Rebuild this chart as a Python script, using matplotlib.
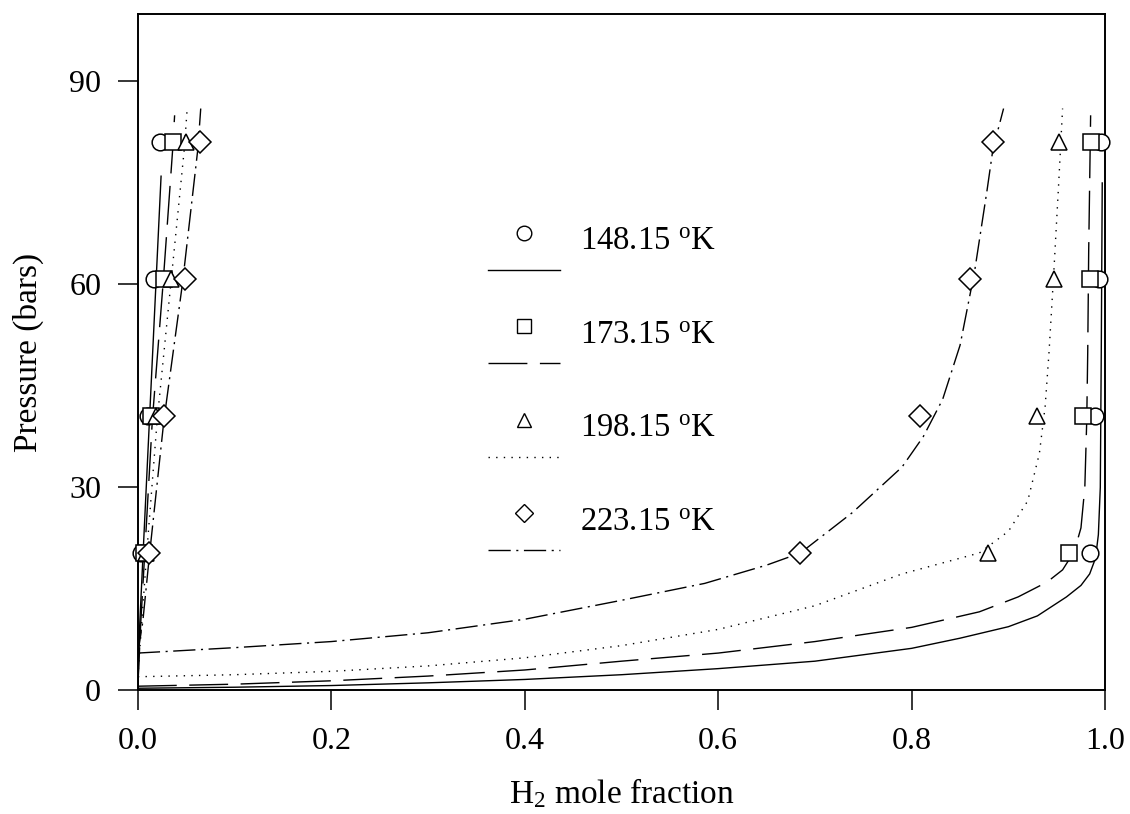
import matplotlib
matplotlib.use("Agg")
import matplotlib.pyplot as plt
from matplotlib.lines import Line2D
from matplotlib.legend_handler import HandlerBase

plt.rcParams['font.family'] = ['Liberation Serif', 'DejaVu Serif']
plt.rcParams['mathtext.fontset'] = 'custom'
plt.rcParams['mathtext.rm'] = 'Liberation Serif'
plt.rcParams['mathtext.it'] = 'Liberation Serif:italic'

# ---------------- data ----------------
labels = [r'148.15 $^{\mathrm{o}}$K', r'173.15 $^{\mathrm{o}}$K',
          r'198.15 $^{\mathrm{o}}$K', r'223.15 $^{\mathrm{o}}$K']
markers = ['o', 's', '^', 'D']
pressures = [20.265, 40.53, 60.795, 81.06]

# experimental points: liquid (left) and vapour (right) H2 mole fractions
liq_148 = [0.0034, 0.010, 0.017, 0.023]
liq_173 = [0.006, 0.014, 0.027, 0.036]
liq_198 = [0.008, 0.019, 0.034, 0.050]
liq_223 = [0.012, 0.027, 0.049, 0.064]
vap_148 = [0.984, 0.990, 0.994, 0.996]
vap_173 = [0.963, 0.977, 0.984, 0.985]
vap_198 = [0.879, 0.930, 0.947, 0.952]
vap_223 = [0.685, 0.809, 0.860, 0.884]

# calculated curves: liquid branch
cl_148_x = [0, 0.002, 0.006, 0.012, 0.018, 0.024]
cl_148_p = [0.3, 10, 22, 40, 58, 76]
cl_173_x = [0, 0.003, 0.007, 0.015, 0.026, 0.036, 0.038]
cl_173_p = [0.6, 10, 20, 40, 60, 80, 85]
cl_198_x = [0, 0.004, 0.009, 0.020, 0.034, 0.048, 0.051]
cl_198_p = [2.0, 10, 20, 40, 60, 80, 86]
cl_223_x = [0, 0.005, 0.012, 0.027, 0.046, 0.062, 0.065]
cl_223_p = [5.5, 10, 20, 40, 60, 80, 86]

# calculated curves: vapour branch
cv_148_x = [0, 0.1, 0.2, 0.3, 0.4, 0.5, 0.6, 0.7, 0.8, 0.85, 0.9, 0.93, 0.96,
            0.975, 0.984, 0.99, 0.993, 0.995, 0.996, 0.997]
cv_148_p = [0.3, 0.45, 0.7, 1.1, 1.6, 2.3, 3.2, 4.3, 6.2, 7.7, 9.4, 11.0, 13.8,
            15.5, 17.2, 19.5, 23, 30, 50, 75]
cv_173_x = [0, 0.1, 0.2, 0.3, 0.4, 0.5, 0.6, 0.7, 0.8, 0.87, 0.91, 0.94, 0.956,
            0.968, 0.975, 0.979, 0.981, 0.982, 0.983, 0.985]
cv_173_p = [0.6, 0.9, 1.4, 2.1, 3.0, 4.3, 5.5, 7.2, 9.3, 11.6, 13.8, 16.0, 17.8,
            20.5, 24, 30, 40, 50, 65, 85]
cv_198_x = [0, 0.1, 0.2, 0.3, 0.4, 0.5, 0.6, 0.7, 0.79, 0.87, 0.9, 0.92, 0.932,
            0.938, 0.942, 0.947, 0.952, 0.956]
cv_198_p = [2.0, 2.3, 2.8, 3.6, 4.8, 6.6, 9.0, 12.5, 17.2, 20.3, 23.5, 28, 35,
            42, 50, 62, 75, 86]
cv_223_x = [0, 0.1, 0.2, 0.3, 0.4, 0.5, 0.586, 0.65, 0.685, 0.739, 0.79, 0.812,
            0.832, 0.85, 0.865, 0.878, 0.884, 0.895]
cv_223_p = [5.5, 6.3, 7.2, 8.5, 10.5, 13.3, 15.8, 18.5, 20.3, 26.3, 33, 37.5,
            43, 51, 61.9, 74, 80, 86]

x_ticks = [0.0, 0.2, 0.4, 0.6, 0.8, 1.0]
y_ticks = [0, 30, 60, 90]

# ---------------- styles ----------------
styles = ['-', (0, (28, 9)), (0, (1, 4.5)), (0, (16, 4, 1.5, 4))]

liq = [liq_148, liq_173, liq_198, liq_223]
vap = [vap_148, vap_173, vap_198, vap_223]
cls = [(cl_148_x, cl_148_p), (cl_173_x, cl_173_p), (cl_198_x, cl_198_p), (cl_223_x, cl_223_p)]
cvs = [(cv_148_x, cv_148_p), (cv_173_x, cv_173_p), (cv_198_x, cv_198_p), (cv_223_x, cv_223_p)]
msizes = [12, 11, 12, 11]

fig = plt.figure(figsize=(11.3, 8.14), dpi=100)
ax = fig.add_axes([0.122, 0.152, 0.856, 0.831])

handles = []
for i in range(4):
    ax.plot(cls[i][0], cls[i][1], color='black', lw=1.0, ls=styles[i])
    ax.plot(cvs[i][0], cvs[i][1], color='black', lw=1.0, ls=styles[i])
    ax.plot(liq[i], pressures, ls='none', marker=markers[i], ms=msizes[i],
            mfc='white', mec='black', mew=1.1, clip_on=False, zorder=3)
    ax.plot(vap[i], pressures, ls='none', marker=markers[i], ms=msizes[i],
            mfc='white', mec='black', mew=1.1, clip_on=False, zorder=3)
    handles.append(Line2D([], [], color='black', lw=1.0, ls=styles[i],
                          marker=markers[i], ms=msizes[i] - 1.5, mfc='white',
                          mec='black', mew=1.0))


class MarkerOverLine(HandlerBase):
    """Legend entry: marker on top, line sample underneath."""
    def create_artists(self, legend, orig_handle, xdescent, ydescent,
                       width, height, fontsize, trans):
        ym = height * 0.5 + 4.5
        m = Line2D([width * 0.5], [ym], ls='none',
                   marker=orig_handle.get_marker(),
                   ms=orig_handle.get_markersize(), mfc='white', mec='black',
                   mew=orig_handle.get_markeredgewidth(), transform=trans)
        ln = Line2D([0, width], [ym - 26.6] * 2, color='black',
                    lw=orig_handle.get_linewidth(), transform=trans)
        pat = orig_handle._unscaled_dash_pattern
        if pat[1]:
            ln.set_linestyle((pat[0], pat[1]))
        return [m, ln]


leg = ax.legend(handles, labels, handler_map={Line2D: MarkerOverLine()},
                loc='upper left', bbox_to_anchor=(0.362, 0.685),
                frameon=False, fontsize=23.5, handlelength=2.2,
                handletextpad=0.61, labelspacing=1.93, borderaxespad=0,
                borderpad=0)

ax.set_xlim(0, 1.0)
ax.set_ylim(0, 100)
ax.set_xticks(x_ticks)
ax.set_xticklabels([f'{v:.1f}' for v in x_ticks])
ax.set_yticks(y_ticks)
ax.tick_params(direction='out', length=14.4, width=1.1, labelsize=23,
               top=False, right=False)
ax.tick_params(axis='x', pad=12)
ax.tick_params(axis='y', pad=12)
for s in ax.spines.values():
    s.set_linewidth(1.4)

ax.set_xlabel(r'H$_{2}$ mole fraction', fontsize=24, labelpad=15)
ax.set_ylabel('Pressure (bars)', fontsize=24, labelpad=18)

fig.savefig('out.png', dpi=100)
